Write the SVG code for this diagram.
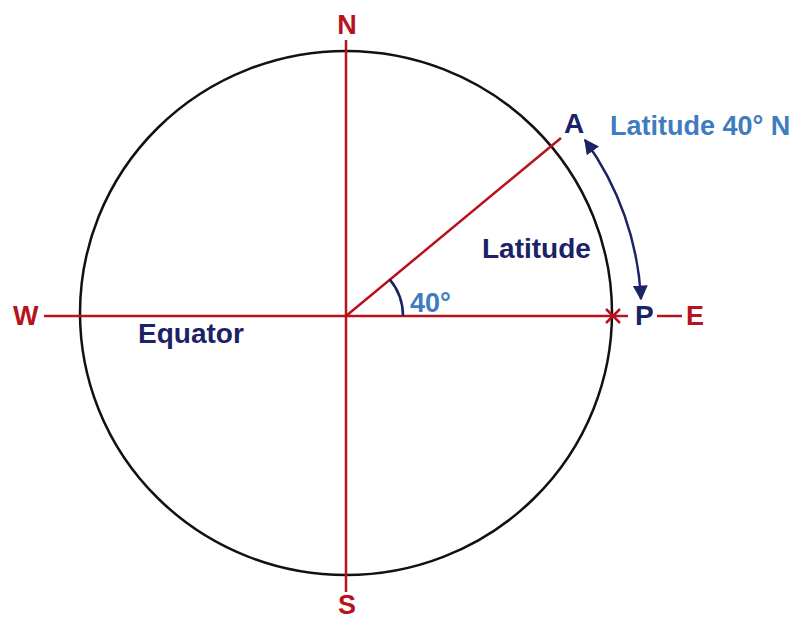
<svg xmlns="http://www.w3.org/2000/svg" width="795" height="619" viewBox="0 0 795 619">
<style>
.red{stroke:#b8121c;stroke-width:2.5;fill:none}
.rt{fill:#b8121c;font-family:"Liberation Sans",Arial,sans-serif;font-weight:bold;font-size:27px}
.nt{fill:#1c2266;font-family:"Liberation Sans",Arial,sans-serif;font-weight:bold;font-size:28px}
.bt{fill:#3e7cbf;font-family:"Liberation Sans",Arial,sans-serif;font-weight:bold;font-size:27px}
</style>
<defs>
<marker id="ah" viewBox="0 0 10 10" refX="9" refY="5" markerWidth="6" markerHeight="6" orient="auto-start-reverse" markerUnits="strokeWidth">
<path d="M0,0 L10,5 L0,10 Z" fill="#1c2266"/>
</marker>
</defs>
<rect width="795" height="619" fill="#fff"/>
<g id="globe">
<ellipse cx="346" cy="313" rx="266" ry="262" fill="none" stroke="#111" stroke-width="2.5"/>
</g>
<g id="connectors">
<line class="red" x1="346" y1="40" x2="346" y2="592"/>
<line class="red" x1="44" y1="316" x2="628" y2="316"/>
<line class="red" x1="657" y1="316" x2="682" y2="316"/>
<line class="red" x1="346" y1="316" x2="561" y2="138"/>
<line class="red" x1="606" y1="309" x2="620" y2="323"/>
<line class="red" x1="606" y1="323" x2="620" y2="309"/>
<path d="M389.7,279.4 A57,57 0 0 1 403,316" fill="none" stroke="#1c2266" stroke-width="2.5"/>
<path d="M585,140 A297,297 0 0 1 641,299" fill="none" stroke="#1c2266" stroke-width="2.5" marker-start="url(#ah)" marker-end="url(#ah)"/>
</g>
<g id="labels">
<text class="rt" x="347" y="34" text-anchor="middle">N</text>
<text class="rt" x="347" y="614" text-anchor="middle">S</text>
<text class="rt" x="13" y="325">W</text>
<text class="rt" x="686" y="325">E</text>
<text class="nt" x="635" y="325">P</text>
<text class="nt" x="564" y="133">A</text>
<text class="bt" x="610" y="135">Latitude 40° N</text>
<text class="nt" x="482" y="258">Latitude</text>
<text class="nt" x="138" y="343">Equator</text>
<text class="bt" x="410" y="312">40°</text>
</g>
</svg>
